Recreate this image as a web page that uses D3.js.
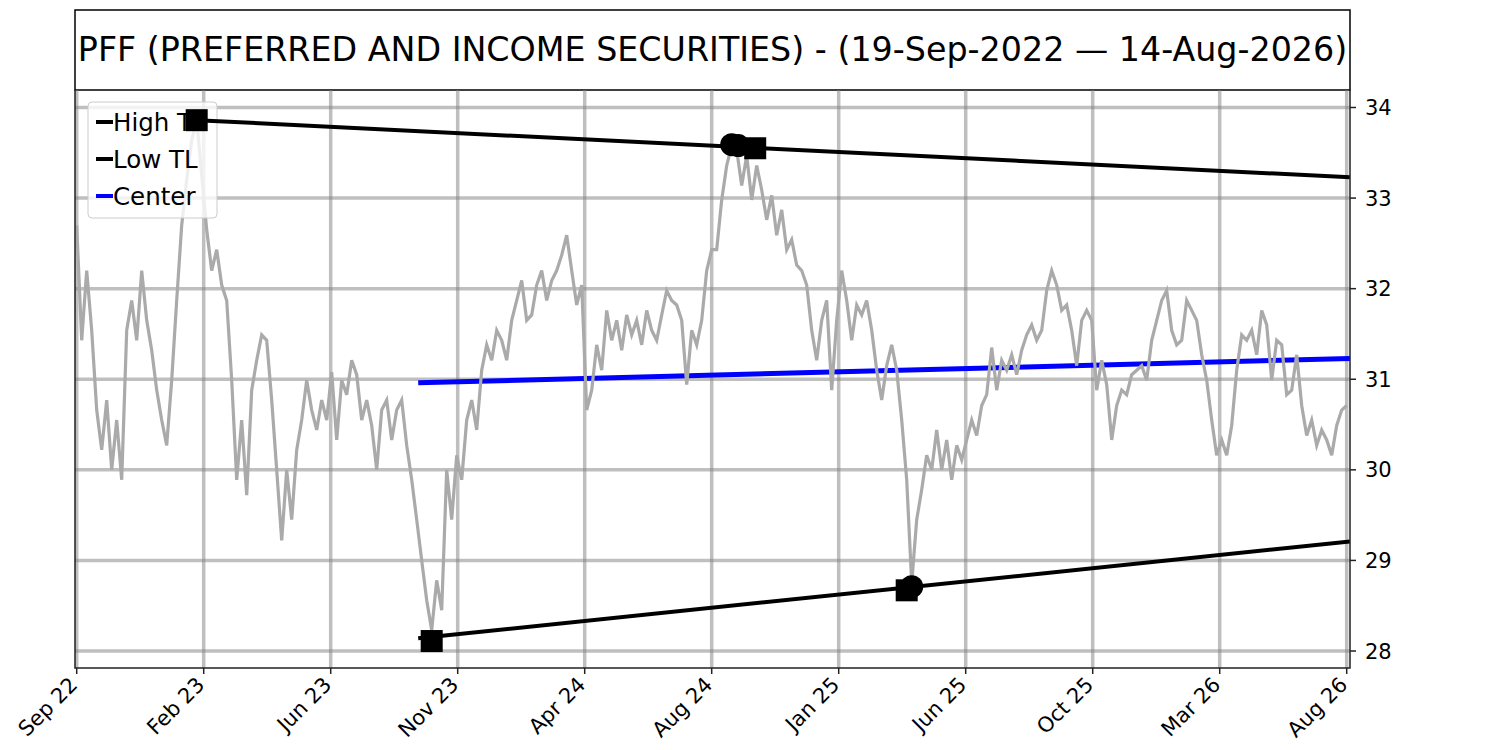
<!DOCTYPE html>
<html>
<head>
<meta charset="utf-8">
<script src="https://cdn.jsdelivr.net/npm/d3@7"></script>
<style>
  body { margin: 0; background: #fff; }
  text { font-family: "DejaVu Sans", sans-serif; }
</style>
</head>
<body>
<div id="chart"></div>
<script>
// ---- data ----
var titleText = "PFF (PREFERRED AND INCOME SECURITIES) - (19-Sep-2022 \u2014 14-Aug-2026)";
var tickLabels = ["Sep 22", "Feb 23", "Jun 23", "Nov 23", "Apr 24", "Aug 24",
                  "Jan 25", "Jun 25", "Oct 25", "Mar 26", "Aug 26"];
var yTicks = [28, 29, 30, 31, 32, 33, 34];

// closing price, one sample per step along the axis
var prices = [
  32.70, 31.43, 32.20, 31.54, 30.66, 30.22, 30.77, 30.00, 30.55, 29.89,
  31.54, 31.87, 31.43, 32.20, 31.65, 31.32, 30.88, 30.55, 30.27, 30.99,
  31.87, 32.70, 33.20, 33.64, 33.86, 33.25, 32.65, 32.20, 32.43, 32.04,
  31.87, 30.99, 29.89, 30.55, 29.72, 30.88, 31.21, 31.49, 31.43, 30.77,
  30.00, 29.22, 30.00, 29.45, 30.22, 30.55, 30.99, 30.66, 30.44, 30.77,
  30.55, 31.08, 30.33, 30.99, 30.83, 31.21, 31.05, 30.55, 30.77, 30.49,
  30.00, 30.66, 30.77, 30.33, 30.66, 30.77, 30.27, 29.89, 29.45, 29.00,
  28.56, 28.23, 28.78, 28.45, 30.00, 29.45, 30.16, 29.89, 30.55, 30.77,
  30.44, 31.10, 31.38, 31.21, 31.54, 31.43, 31.21, 31.65, 31.87, 32.09,
  31.65, 31.71, 32.04, 32.20, 31.87, 32.09, 32.20, 32.37, 32.59, 32.20,
  31.82, 32.04, 30.66, 30.88, 31.38, 31.10, 31.76, 31.43, 31.65, 31.32,
  31.71, 31.49, 31.65, 31.38, 31.76, 31.54, 31.43, 31.71, 31.98, 31.87,
  31.82, 31.65, 30.94, 31.54, 31.38, 31.65, 32.20, 32.43, 32.43, 32.98,
  33.36, 33.58, 33.53, 33.14, 33.47, 32.98, 33.36, 33.09, 32.76, 33.03,
  32.59, 32.87, 32.43, 32.54, 32.26, 32.20, 32.04, 31.54, 31.21, 31.65,
  31.87, 30.88, 31.65, 32.20, 31.87, 31.43, 31.82, 31.71, 31.87, 31.54,
  31.10, 30.77, 31.15, 31.38, 31.10, 30.55, 29.89, 28.75, 29.45, 29.78,
  30.16, 30.00, 30.44, 30.00, 30.33, 29.89, 30.27, 30.11, 30.33, 30.55,
  30.38, 30.71, 30.83, 31.35, 30.88, 31.21, 31.10, 31.27, 31.05, 31.32,
  31.49, 31.60, 31.43, 31.54, 31.98, 32.20, 32.04, 31.76, 31.82, 31.54,
  31.15, 31.65, 31.76, 31.65, 30.88, 31.21, 30.94, 30.33, 30.71, 30.88,
  30.83, 31.05, 31.10, 31.15, 30.99, 31.43, 31.65, 31.87, 31.98, 31.54,
  31.38, 31.43, 31.87, 31.76, 31.65, 31.27, 30.99, 30.55, 30.16, 30.33,
  30.16, 30.49, 31.10, 31.49, 31.43, 31.54, 31.27, 31.76, 31.60, 30.99,
  31.43, 31.38, 30.83, 30.88, 31.27, 30.71, 30.38, 30.55, 30.27, 30.44,
  30.33, 30.16, 30.49, 30.66, 30.71
];

// trend lines as [index, price] end points
var highTL = [[24, 33.86], [254.66, 33.23]];
var lowTL = [[68.3, 28.14], [254.66, 29.21]];
var centerTL = [[68.3, 30.96], [254.66, 31.23]];

// touch points
var squarePts = [[24, 33.86], [135.7, 33.55], [71, 28.11], [166, 28.67]];
var circlePts = [[131, 33.59], [132.3, 33.58], [167, 28.71]];

var legendNames = ["High TL", "Low TL", "Center"];
var legendColors = ["black", "black", "blue"];

// ---- layout ----
var W = 1500, H = 750;
var pLeft = 75, pRight = 1350, pTop = 90, pBottom = 668;

var svg = d3.select("#chart").append("svg")
  .attr("width", W).attr("height", H);

var x = d3.scaleLinear().domain([0, prices.length - 1]).range([76.7, 1346.7]);
var y = d3.scaleLinear().domain([28, 34]).range([651, 107.5]);

var tickPos = tickLabels.map(function(d, i) {
  return i * (prices.length - 1) / (tickLabels.length - 1);
});

svg.append("defs").append("clipPath").attr("id", "plotclip")
  .append("rect")
  .attr("x", pLeft).attr("y", pTop)
  .attr("width", pRight - pLeft).attr("height", pBottom - pTop);

// title box
svg.append("rect")
  .attr("x", pLeft).attr("y", 10)
  .attr("width", pRight - pLeft).attr("height", pTop - 10)
  .attr("fill", "white").attr("stroke", "black").attr("stroke-width", 1.5);

var title = svg.append("text")
  .attr("x", (pLeft + pRight) / 2).attr("y", 61)
  .attr("text-anchor", "middle")
  .attr("font-size", 30)
  .text(titleText);
var tl = title.node().getComputedTextLength();
title.attr("font-size", 30 * 1270 / tl);

var plot = svg.append("g").attr("clip-path", "url(#plotclip)");

// grid
plot.selectAll(".vgrid").data(tickPos).enter().append("line")
  .attr("x1", function(d) { return x(d); }).attr("x2", function(d) { return x(d); })
  .attr("y1", pTop).attr("y2", pBottom)
  .attr("stroke", "#808080").attr("stroke-opacity", 0.5).attr("stroke-width", 3.5);
plot.selectAll(".hgrid").data(yTicks).enter().append("line")
  .attr("x1", pLeft).attr("x2", pRight)
  .attr("y1", function(d) { return y(d); }).attr("y2", function(d) { return y(d); })
  .attr("stroke", "#808080").attr("stroke-opacity", 0.5).attr("stroke-width", 3.5);

var seg = d3.line()
  .x(function(d) { return x(d[0]); })
  .y(function(d) { return y(d[1]); });

// center line under the price
plot.append("path").attr("d", seg(centerTL))
  .attr("fill", "none").attr("stroke", "blue").attr("stroke-width", 5);

var priceLine = d3.line()
  .x(function(d, i) { return x(i); })
  .y(function(d) { return y(d); });

plot.append("path").datum(prices)
  .attr("d", priceLine)
  .attr("fill", "none").attr("stroke", "#aaaaaa").attr("stroke-width", 3.2);

// legend
var lg = svg.append("g");
lg.append("rect")
  .attr("x", 88).attr("y", 102).attr("width", 129).attr("height", 116)
  .attr("rx", 4)
  .attr("fill", "white").attr("fill-opacity", 0.8)
  .attr("stroke", "#cccccc").attr("stroke-width", 1);
legendNames.forEach(function(name, i) {
  var cy = 122 + i * 37;
  lg.append("line")
    .attr("x1", 96).attr("x2", 113).attr("y1", cy).attr("y2", cy)
    .attr("stroke", legendColors[i]).attr("stroke-width", 4);
  lg.append("text")
    .attr("x", 113).attr("y", cy).attr("dy", "0.36em")
    .attr("font-size", 24.5)
    .text(name);
});

// trend lines and touch points above the legend
var over = svg.append("g").attr("clip-path", "url(#plotclip)");
[highTL, lowTL].forEach(function(t) {
  over.append("path").attr("d", seg(t))
    .attr("fill", "none").attr("stroke", "black").attr("stroke-width", 4);
});

over.selectAll(".sq").data(squarePts).enter().append("rect")
  .attr("x", function(d) { return x(d[0]) - 11; })
  .attr("y", function(d) { return y(d[1]) - 11; })
  .attr("width", 22).attr("height", 22)
  .attr("fill", "black");
over.selectAll(".ci").data(circlePts).enter().append("circle")
  .attr("cx", function(d) { return x(d[0]); })
  .attr("cy", function(d) { return y(d[1]); })
  .attr("r", 11.5)
  .attr("fill", "black");

// spines
svg.append("path")
  .attr("d", "M" + pLeft + "," + pTop + "V" + pBottom + "H" + pRight + "V" + pTop)
  .attr("fill", "none").attr("stroke", "#222").attr("stroke-width", 1.5);

// x ticks
var xt = svg.selectAll(".xt").data(tickPos).enter().append("g")
  .attr("transform", function(d) { return "translate(" + x(d) + "," + pBottom + ")"; });
xt.append("line").attr("y1", 0).attr("y2", 6)
  .attr("stroke", "#222").attr("stroke-width", 1.5);
xt.append("text")
  .attr("text-anchor", "end")
  .attr("font-size", 21)
  .attr("transform", "translate(2,18) rotate(-45)")
  .text(function(d, i) { return tickLabels[i]; });

// y ticks on the right
var yt = svg.selectAll(".yt").data(yTicks).enter().append("g")
  .attr("transform", function(d) { return "translate(" + pRight + "," + y(d) + ")"; });
yt.append("line").attr("x1", 0).attr("x2", 6)
  .attr("stroke", "#222").attr("stroke-width", 1.5);
yt.append("text")
  .attr("x", 15).attr("dy", "0.36em")
  .attr("font-size", 21)
  .text(function(d) { return d; });
</script>
</body>
</html>
